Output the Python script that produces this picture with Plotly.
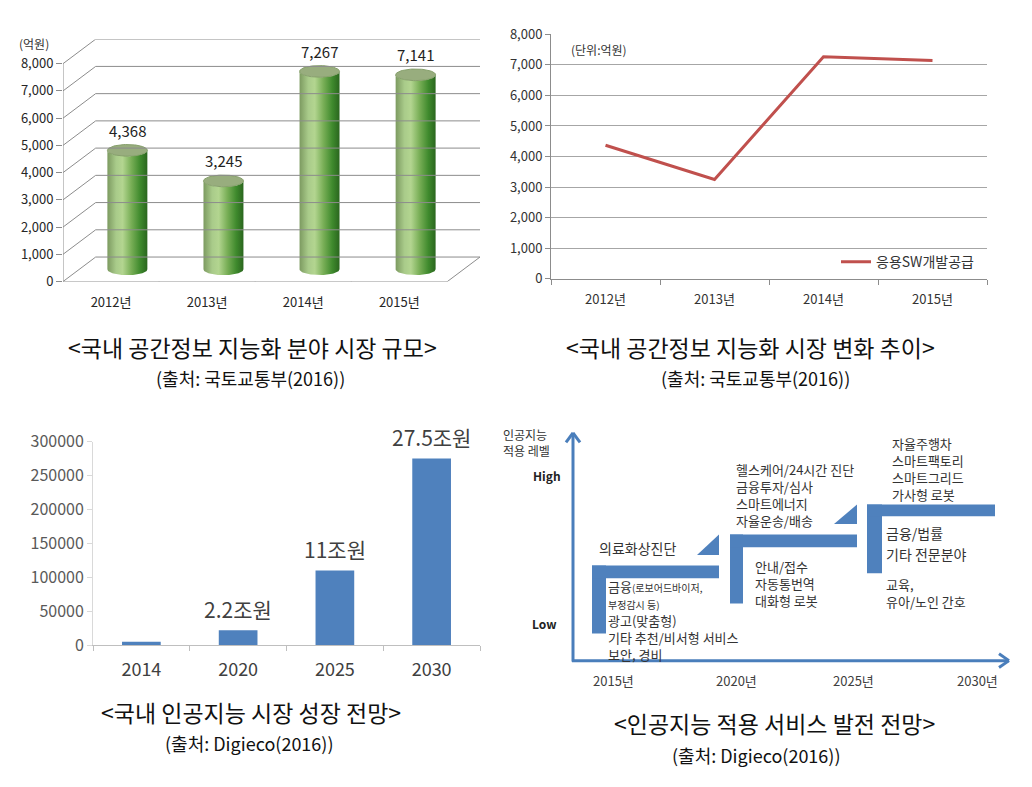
import numpy as np
import plotly.graph_objects as go

W, H = 1032, 787
FONT = "Noto Sans CJK KR"

# ---------------- data ----------------
# Panel 1 / 2 : 국내 공간정보 지능화 시장 (단위: 억원)
geo_years = ["2012년", "2013년", "2014년", "2015년"]
geo_market = [4368, 3245, 7267, 7141]
geo_ticks = [0, 1000, 2000, 3000, 4000, 5000, 6000, 7000, 8000]
geo_series_name = "응용SW개발공급"

# Panel 3 : 국내 인공지능 시장 성장 전망 (억원)
ai_years = ["2014", "2020", "2025", "2030"]
ai_market = [5000, 22000, 110000, 275000]
ai_labels = ["", "2.2조원", "11조원", "27.5조원"]
ai_ticks = [0, 50000, 100000, 150000, 200000, 250000, 300000]

# Panel 4 : 인공지능 적용 서비스 발전 전망
road_years = ["2015년", "2020년", "2025년", "2030년"]
road_high_1 = ["의료화상진단"]
road_low_1 = ["금융(로보어드바이저,", "부정감시 등)", "광고(맞춤형)", "기타 추천/비서형 서비스", "보안, 경비"]
road_high_2 = ["헬스케어/24시간 진단", "금융투자/심사", "스마트에너지", "자율운송/배송"]
road_low_2 = ["안내/접수", "자동통번역", "대화형 로봇"]
road_high_3 = ["자율주행차", "스마트팩토리", "스마트그리드", "가사형 로봇"]
road_mid_3 = ["금융/법률", "기타 전문분야"]
road_low_3 = ["교육,", "유아/노인 간호"]
road_axis_title = ["인공지능", "적용 레벨"]

captions = ["<국내 공간정보 지능화 분야 시장 규모>", "<국내 공간정보 지능화 시장 변화 추이>",
            "<국내 인공지능 시장 성장 전망>", "<인공지능 적용 서비스 발전 전망>"]
sources = ["(출처: 국토교통부(2016))", "(출처: 국토교통부(2016))",
           "(출처: Digieco(2016))", "(출처: Digieco(2016))"]


def px(x):
    return x / W


def py(y):
    return 1 - y / H


fig = go.Figure()
shapes = []
annotations = []

# ---------------- Panel 1 : 3D cylinders ----------------
DX, DY = 0.34, 900          # depth offset (category units, value units)
grid_c = "#8c8c8c"
for v in geo_ticks:
    shapes.append(dict(type="line", xref="x", yref="y", x0=-0.5 + DX, x1=3.5 + DX,
                       y0=v + DY, y1=v + DY, line=dict(color=grid_c, width=1)))
    shapes.append(dict(type="line", xref="x", yref="y", x0=-0.5, x1=-0.5 + DX,
                       y0=v, y1=v + DY, line=dict(color=grid_c, width=1)))
shapes.append(dict(type="line", xref="x", yref="y", x0=-0.5, x1=3.5, y0=0, y1=0,
                   line=dict(color=grid_c, width=1)))
shapes.append(dict(type="line", xref="x", yref="y", x0=3.5, x1=3.5 + DX, y0=0, y1=DY,
                   line=dict(color=grid_c, width=1)))
shapes.append(dict(type="line", xref="x", yref="y", x0=-0.5, x1=-0.5, y0=0, y1=max(geo_ticks),
                   line=dict(color=grid_c, width=1)))
for b in np.arange(-0.5, len(geo_years), 1.0):
    shapes.append(dict(type="line", xref="x", yref="y", ysizemode="pixel", yanchor=0,
                       x0=b, x1=b, y0=0, y1=-6, line=dict(color=grid_c, width=1)))

R, E = 0.208, 214
base = DY / 2
t = np.linspace(0, np.pi, 40)
t2 = np.linspace(0, 2 * np.pi, 80)
for i, v in enumerate(geo_market):
    xc = i + DX / 2
    yt = v + base
    xs = np.concatenate([[xc - R, xc - R], xc - R * np.cos(t), [xc + R, xc + R], xc + R * np.cos(t)])
    ys = np.concatenate([[base, yt], yt - E * np.sin(t), [yt, base], base - E * np.sin(t)])
    fig.add_trace(go.Scatter(
        x=xs, y=ys, xaxis="x", yaxis="y", mode="lines", fill="toself",
        line=dict(color="rgba(0,0,0,0)", width=0),
        fillgradient=dict(type="horizontal", colorscale=[
            [0, "#7c9a60"], [0.22, "#a9cb8a"], [0.38, "#b3d590"], [0.6, "#78ae56"],
            [0.82, "#3f8a2d"], [1, "#2a661e"]]),
        showlegend=False, hoverinfo="skip"))
    fig.add_trace(go.Scatter(
        x=xc + R * np.cos(t2), y=yt + E * np.sin(t2), xaxis="x", yaxis="y", mode="lines",
        fill="toself", fillcolor="#98ad7e", line=dict(color="#87a06c", width=1),
        showlegend=False, hoverinfo="skip"))
    annotations.append(dict(xref="x", yref="y", x=xc, y=yt + E, yanchor="bottom", yshift=2,
                            text=f"{v:,}", showarrow=False,
                            font=dict(size=15, color="#222222")))

annotations.append(dict(xref="paper", yref="paper", x=px(34), y=py(31), text="(억원)",
                        showarrow=False, font=dict(size=12, color="#333333")))

# ---------------- Panel 2 : line ----------------
fig.add_trace(go.Scatter(x=geo_years, y=geo_market, xaxis="x2", yaxis="y2", mode="lines",
                         name=geo_series_name, line=dict(color="#c0504d", width=3)))
annotations.append(dict(xref="paper", yref="paper", x=px(599), y=py(38), text="(단위:억원)",
                        showarrow=False, font=dict(size=12, color="#333333")))

# ---------------- Panel 3 : bars ----------------
fig.add_trace(go.Bar(x=ai_years, y=ai_market, xaxis="x3", yaxis="y3", width=0.4,
                     marker=dict(color="#4f81bd", line=dict(width=0)), showlegend=False))
for i, (v, lab) in enumerate(zip(ai_market, ai_labels)):
    if lab:
        annotations.append(dict(xref="x3", yref="y3", x=i, y=v, yanchor="bottom", yshift=4,
                                text=lab, showarrow=False, font=dict(size=21, color="#404040")))

# ---------------- Panel 4 : roadmap diagram ----------------
blue = "#4f81bd"
arrow_c = "#4a7ebb"


def rect(x0, y0, x1, y1):
    shapes.append(dict(type="rect", xref="paper", yref="paper", x0=px(x0), x1=px(x1),
                       y0=py(y1), y1=py(y0), fillcolor=blue, line=dict(width=0)))


def tri(x0, y0, x1, y1):
    path = f"M {px(x0)},{py(y1)} L {px(x1)},{py(y0)} L {px(x1)},{py(y1)} Z"
    shapes.append(dict(type="path", xref="paper", yref="paper", path=path,
                       fillcolor=blue, line=dict(width=0)))


def pline(x0, y0, x1, y1, w=3):
    shapes.append(dict(type="line", xref="paper", yref="paper", x0=px(x0), x1=px(x1),
                       y0=py(y0), y1=py(y1), line=dict(color=arrow_c, width=w)))


# axes arrows
pline(573, 669, 573, 433)
pline(573, 433, 566, 443)
pline(573, 433, 580, 443)
pline(572, 668, 1009, 668)
pline(1009, 668, 999, 661)
pline(1009, 668, 999, 675)

# steps
rect(592, 570, 606, 640)
rect(592, 570, 719, 583)
tri(697, 538, 719, 559)
rect(730, 538, 743, 609)
rect(730, 538, 857, 551)
tri(834, 507, 857, 527)
rect(867, 507, 882, 578)
rect(867, 507, 995, 519)

txt_c = "#333333"


def left_text(s, x, y, size=13):
    annotations.append(dict(xref="paper", yref="paper", x=px(x), y=py(y),
                            xanchor="left", yanchor="middle", text=s, showarrow=False,
                            align="left", borderpad=0, font=dict(size=size, color=txt_c)))


def block(lines, x, y_first, y_last, size=13):
    left_text("<br>".join(lines), x, (y_first + y_last) / 2, size)


left_text(road_high_1[0], 598, 552, 14)
head, rest = road_low_1[0].split("(", 1)
low1 = [f"{head}<span style='font-size:10px'>({rest}</span>",
        f"<span style='font-size:10px'>{road_low_1[1]}</span>"] + road_low_1[2:]
block(low1, 607, 597, 657)
block(road_high_2, 735, 474, 521)
block(road_low_2, 754, 573, 604)
block(road_high_3, 891, 447, 493)
left_text(road_mid_3[0], 885, 536, 14)
left_text(road_mid_3[1], 885, 558, 14)
block(road_low_3, 885, 591, 606)

for lab, xc in zip(road_years, [613, 736, 853, 977]):
    annotations.append(dict(xref="paper", yref="paper", x=px(xc), y=py(688), showarrow=False,
                            text=lab, font=dict(size=13, color="#404040")))

block(road_axis_title, 502, 435, 452, 12)
annotations.append(dict(xref="paper", yref="paper", x=px(547), y=py(477), showarrow=False,
                        text="<b>High</b>", font=dict(size=12, color="#222222")))
annotations.append(dict(xref="paper", yref="paper", x=px(544), y=py(630), showarrow=False,
                        text="<b>Low</b>", font=dict(size=12, color="#222222")))

# ---------------- captions ----------------
cap_pos = [(252, 344), (750, 344), (251, 721), (774, 732)]
src_pos = [(250, 376), (755, 376), (249, 753), (756, 765)]
for s, (x, y) in zip(captions, cap_pos):
    annotations.append(dict(xref="paper", yref="paper", x=px(x), y=py(y), showarrow=False,
                            text=s.replace("<", "&lt;").replace(">", "&gt;"),
                            font=dict(size=23, color="#111111")))
for s, (x, y) in zip(sources, src_pos):
    annotations.append(dict(xref="paper", yref="paper", x=px(x), y=py(y), showarrow=False,
                            text=s, font=dict(size=18, color="#111111")))

for a in annotations:
    a.setdefault("xanchor", "center")
    a.setdefault("yanchor", "middle")

# ---------------- layout ----------------
tickfont1 = dict(size=13, color="#262626")
fig.update_layout(
    width=W, height=H, autosize=False,
    margin=dict(l=0, r=0, t=0, b=0),
    paper_bgcolor="white", plot_bgcolor="rgba(0,0,0,0)",
    font=dict(family=FONT, color="#333333"),
    xaxis=dict(domain=[px(63), px(480)], range=[-0.5, 3.5 + DX], tickmode="array",
               tickvals=list(range(len(geo_years))), ticktext=geo_years, ticks="",
               showgrid=False, zeroline=False, showline=False, ticklabelstandoff=11,
               tickfont=tickfont1, fixedrange=True),
    yaxis=dict(domain=[py(277), py(27)], range=[0, max(geo_ticks) + DY], tickmode="array",
               tickvals=geo_ticks, ticktext=[f"{v:,}" for v in geo_ticks], ticks="outside",
               ticklen=6, tickcolor=grid_c, showgrid=False, zeroline=False, showline=False,
               tickfont=tickfont1, fixedrange=True),
    xaxis2=dict(domain=[px(551), px(987)], type="category", range=[-0.5, 3.5],
                tickson="boundaries", ticks="outside", ticklen=5, tickcolor="#8c8c8c",
                showline=True, linecolor="#8c8c8c", showgrid=False, ticklabelstandoff=9,
                tickfont=dict(size=13, color="#333333"), anchor="y2"),
    yaxis2=dict(domain=[py(274), py(22)], range=[0, 8000], dtick=1000, tickformat=",",
                showgrid=True, gridcolor="#a6a6a6", gridwidth=1, zeroline=False,
                showline=True, linecolor="#8c8c8c", ticks="outside", ticklen=5,
                tickcolor="#8c8c8c", tickfont=dict(size=13, color="#333333"), anchor="x2"),
    xaxis3=dict(domain=[px(93), px(480)], type="category", range=[-0.5, 3.5],
                tickson="boundaries", ticks="outside", ticklen=5, tickcolor="#bfbfbf",
                showline=True, linecolor="#bfbfbf", showgrid=False, ticklabelstandoff=8,
                tickfont=dict(size=18, color="#404040"), anchor="y3"),
    yaxis3=dict(domain=[py(652), py(442)], range=[0, 300000], tickmode="array",
                tickvals=ai_ticks, tickformat="d", showgrid=False, zeroline=False,
                showline=True, linecolor="#d9d9d9", ticks="outside", ticklen=5,
                tickcolor="#d9d9d9", tickfont=dict(size=16, color="#595959"), anchor="x3"),
    legend=dict(x=px(836), y=py(257), xanchor="left", yanchor="middle",
                bgcolor="rgba(0,0,0,0)", font=dict(size=14, color="#333333"), itemwidth=30),
    showlegend=True,
    shapes=shapes,
    annotations=annotations,
)

fig.write_html("out.html")
